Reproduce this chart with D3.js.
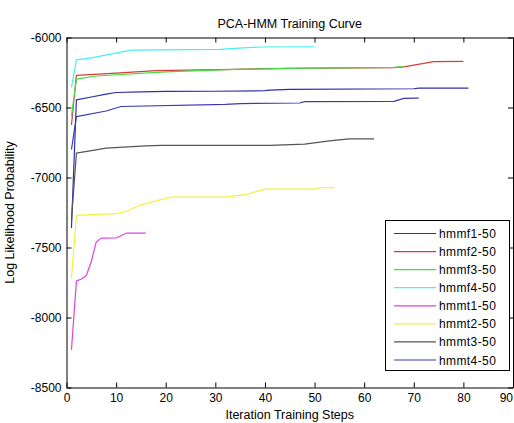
<!DOCTYPE html>
<html>
<head>
<meta charset="utf-8">
<script src="https://cdn.jsdelivr.net/npm/d3@7"></script>
<style>
  html, body { margin: 0; padding: 0; background: #fff; }
  svg { display: block; }
  text { font-family: "Liberation Sans", Arial, Helvetica, sans-serif; fill: #000; }
</style>
</head>
<body>
<svg id="chart" width="514" height="423"></svg>
<script>
// ---- Data ----
const seriesNames = ["hmmf1-50", "hmmf2-50", "hmmf3-50", "hmmf4-50", "hmmt1-50", "hmmt2-50", "hmmt3-50", "hmmt4-50"];
const seriesColors = ["#2e2eb0", "#d63c3c", "#44dd44", "#44f0f0", "#dd44dd", "#f2f23c", "#555555", "#3a3ab4"];

const hmmf1X = [1, 2, 5, 8, 10, 15, 20, 30, 40, 41, 45, 70, 71, 81];
const hmmf1Y = [-7360, -6445, -6425, -6405, -6393, -6388, -6385, -6384, -6380, -6376, -6370, -6366, -6361, -6361];

const hmmf2X = [1, 2, 10, 18, 34, 45, 66, 68, 72, 74, 80];
const hmmf2Y = [-6625, -6270, -6255, -6236, -6227, -6220, -6215, -6210, -6185, -6172, -6170];

const hmmf3X = [1, 2, 6, 20, 34, 45, 66, 68];
const hmmf3Y = [-6560, -6297, -6275, -6245, -6228, -6220, -6214, -6207];

const hmmf4X = [1, 2, 5, 13, 31, 34, 39, 50];
const hmmf4Y = [-6357, -6160, -6145, -6090, -6085, -6077, -6068, -6066];

const hmmt1X = [1, 2, 3, 4, 5, 6, 7, 10, 12, 16];
const hmmt1Y = [-8230, -7740, -7725, -7700, -7600, -7460, -7433, -7432, -7398, -7398];

const hmmt2X = [1, 2, 10, 12, 15, 21, 32, 36, 40, 50, 51, 54];
const hmmt2Y = [-7720, -7270, -7258, -7243, -7195, -7140, -7140, -7123, -7083, -7083, -7072, -7072];

const hmmt3X = [1, 2, 8, 16, 19, 41, 48, 53, 57, 62];
const hmmt3Y = [-7300, -6826, -6790, -6774, -6771, -6771, -6762, -6738, -6724, -6724];

const hmmt4X = [1, 2, 8, 11, 32, 35, 47, 48, 66, 68, 71];
const hmmt4Y = [-6800, -6565, -6525, -6493, -6478, -6472, -6468, -6458, -6456, -6435, -6433];

const xTicks = [0, 10, 20, 30, 40, 50, 60, 70, 80, 90];
const yTicks = [-8500, -8000, -7500, -7000, -6500, -6000];

const titleText = "PCA-HMM Training Curve";
const xLabel = "Iteration Training Steps";
const yLabel = "Log Likelihood Probability";

const allX = [hmmf1X, hmmf2X, hmmf3X, hmmf4X, hmmt1X, hmmt2X, hmmt3X, hmmt4X];
const allY = [hmmf1Y, hmmf2Y, hmmf3Y, hmmf4Y, hmmt1Y, hmmt2Y, hmmt3Y, hmmt4Y];
const series = seriesNames.map((n, i) => ({
  name: n, color: seriesColors[i],
  pts: allX[i].map((x, j) => [x, allY[i][j]])
}));

// ---- Layout ----
const svg = d3.select("#chart");
const L = 66.5, R = 513, T = 37.5, B = 387.5;
const x = d3.scaleLinear().domain([0, 90]).range([L, R]);
const y = d3.scaleLinear().domain([-8500, -6000]).range([B, T]);

svg.append("rect").attr("x", L).attr("y", T).attr("width", R - L).attr("height", B - T)
  .attr("fill", "#fff");

// lines
const line = d3.line().x(d => x(d[0])).y(d => y(d[1]));
svg.append("g").selectAll("path").data(series).join("path")
  .attr("d", d => line(d.pts))
  .attr("fill", "none")
  .attr("stroke", d => d.color)
  .attr("stroke-width", 1.2)
  .attr("stroke-linejoin", "round");

// axes (MATLAB style: inward ticks, box)
const tickLen = 5;
const fmt = d => String(d);  // plain hyphen-minus, no thousands separator
const xAxisB = d3.axisBottom(x).tickValues(xTicks).tickFormat(fmt).tickSizeInner(-tickLen).tickSizeOuter(0).tickPadding(6);
const xAxisT = d3.axisTop(x).tickValues(xTicks).tickSizeInner(-tickLen).tickSizeOuter(0).tickFormat("");
const yAxisL = d3.axisLeft(y).tickValues(yTicks).tickFormat(fmt).tickSizeInner(-tickLen).tickSizeOuter(0).tickPadding(5);
const yAxisR = d3.axisRight(y).tickValues(yTicks).tickSizeInner(-tickLen).tickSizeOuter(0).tickFormat("");

function styleAxis(g) {
  g.selectAll("path.domain").attr("stroke", "#000").attr("stroke-width", 1);
  g.selectAll(".tick line").attr("stroke", "#000").attr("stroke-width", 1);
  g.selectAll(".tick text").attr("font-size", 12).attr("fill", "#000")
    .style("font-family", '"Liberation Sans", Arial, sans-serif');
}
const gxb = svg.append("g").attr("transform", `translate(0,${B})`).call(xAxisB).call(styleAxis);
// keep the last x label ("90") inside the window
gxb.selectAll(".tick text").filter(d => d === 90).attr("text-anchor", "end").attr("dx", -0.5);
svg.append("g").attr("transform", `translate(0,${T})`).call(xAxisT).call(styleAxis);
svg.append("g").attr("transform", `translate(${L},0)`).call(yAxisL).call(styleAxis);
svg.append("g").attr("transform", `translate(${R},0)`).call(yAxisR).call(styleAxis);

// title and labels
svg.append("text").attr("x", (L + R) / 2).attr("y", 28).attr("text-anchor", "middle")
  .attr("font-size", 12.5).text(titleText);
svg.append("text").attr("x", (L + R) / 2).attr("y", 419).attr("text-anchor", "middle")
  .attr("font-size", 12.5).text(xLabel);
svg.append("text").attr("transform", `translate(14,${(T + B) / 2}) rotate(-90)`)
  .attr("text-anchor", "middle").attr("font-size", 12.5).text(yLabel);

// legend
const lg = svg.append("g");
const lgX = 385.5, lgY = 220.5, lgW = 124, lgH = 150;
lg.append("rect").attr("x", lgX).attr("y", lgY).attr("width", lgW).attr("height", lgH)
  .attr("fill", "#fff").attr("stroke", "#000").attr("stroke-width", 1);
const rowY = d3.scaleLinear().domain([0, series.length - 1]).range([233.5, 360]);
const rows = lg.selectAll("g.row").data(series).join("g").attr("class", "row");
rows.append("line")
  .attr("x1", 394).attr("x2", 436)
  .attr("y1", (d, i) => rowY(i)).attr("y2", (d, i) => rowY(i))
  .attr("stroke", d => d.color).attr("stroke-width", 1.2);
rows.append("text")
  .attr("x", 439).attr("y", (d, i) => rowY(i) + 4.5)
  .attr("font-size", 12).attr("letter-spacing", 0.4)
  .text(d => d.name);
</script>
</body>
</html>
